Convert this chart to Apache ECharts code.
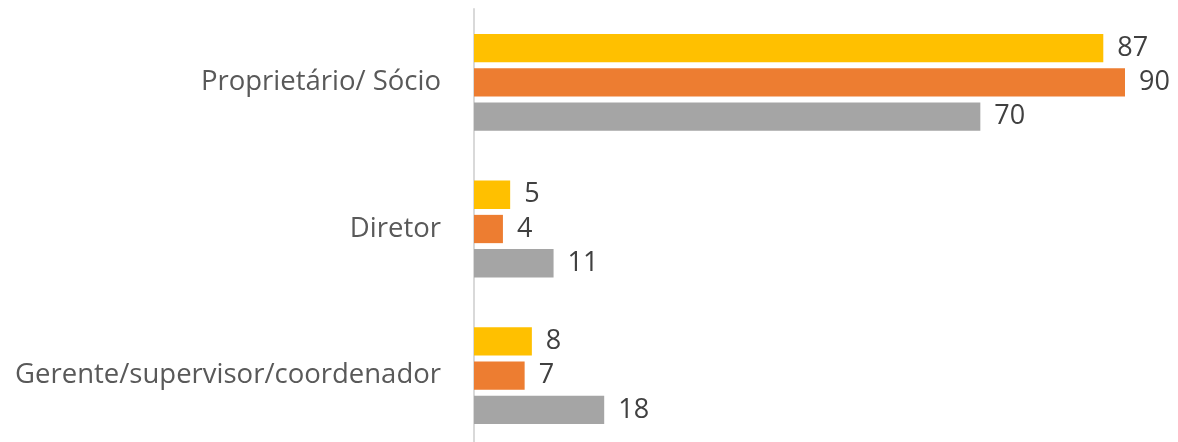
<!DOCTYPE html>
<html>
<head>
<meta charset="utf-8">
<script src="https://cdn.jsdelivr.net/npm/echarts@6/dist/echarts.min.js"></script>
<style>
  html, body { margin: 0; padding: 0; background: #fff; overflow: hidden; }
  #chart { width: 1178px; height: 460px; }
</style>
</head>
<body>
<div id="chart"></div>
<script>
// categories, top to bottom
const categories = ['Proprietário/ Sócio', 'Diretor', 'Gerente/supervisor/coordenador'];
// three series per category (yellow, orange, gray)
const serieA = [87, 5, 8];
const serieB = [90, 4, 7];
const serieC = [70, 11, 18];

const colors = ['#ffc000', '#ed7d31', '#a5a5a5'];
const fontFamily = '"Open Sans", "Noto Sans", sans-serif';

const chart = echarts.init(document.getElementById('chart'));

const mkSeries = (name, data, color) => ({
  name,
  type: 'bar',
  data,
  barCategoryGap: '34%',
  barGap: '21%',
  itemStyle: { color },
  label: {
    show: true,
    position: 'right',
    distance: 14,
    color: '#404040',
    fontSize: 27,
    fontFamily,
  },
  silent: true,
});

chart.setOption({
  animation: false,
  grid: { left: 474, top: 9, width: 651, height: 440, containLabel: false },
  xAxis: {
    type: 'value',
    min: 0,
    max: 90,
    show: false,
  },
  yAxis: {
    type: 'category',
    data: categories,
    inverse: true,
    axisLine: { show: true, lineStyle: { color: '#d9d9d9', width: 2 } },
    axisTick: { show: false },
    axisLabel: { color: '#595959', fontSize: 27.5, fontFamily, margin: 33 },
  },
  series: [
    mkSeries('Série 1', serieA, colors[0]),
    mkSeries('Série 2', serieB, colors[1]),
    mkSeries('Série 3', serieC, colors[2]),
  ],
});
</script>
</body>
</html>
